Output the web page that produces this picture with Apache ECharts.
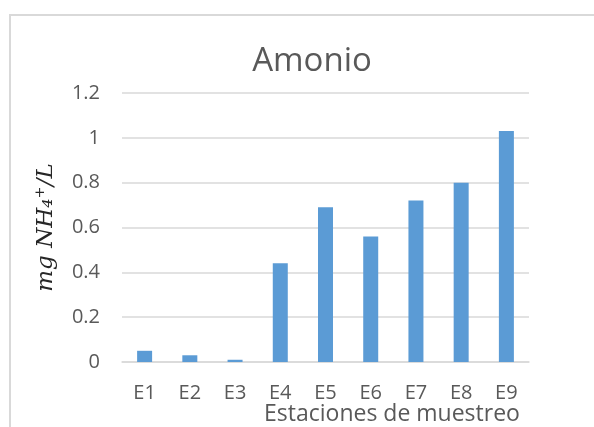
<!DOCTYPE html>
<html>
<head>
<meta charset="utf-8">
<script src="https://cdn.jsdelivr.net/npm/echarts@6/dist/echarts.min.js"></script>
<style>
  html, body { margin: 0; padding: 0; background: #fff; }
  #chart { width: 594px; height: 427px; }
</style>
</head>
<body>
<div id="chart"></div>
<script>
// Ammonium concentration per sampling station
const stations = ['E1', 'E2', 'E3', 'E4', 'E5', 'E6', 'E7', 'E8', 'E9'];
const ammonium = [0.05, 0.03, 0.01, 0.44, 0.69, 0.56, 0.72, 0.80, 1.03];
const yTicks = [0, 0.2, 0.4, 0.6, 0.8, 1, 1.2];

const textColor = '#595959';
const lineColor = '#d9d9d9';
const sans = '"Open Sans", "Noto Sans", sans-serif';

const chart = echarts.init(document.getElementById('chart'), null, { renderer: 'canvas' });

chart.setOption({
  animation: false,
  backgroundColor: '#ffffff',
  title: {
    text: 'Amonio',
    left: 307,
    top: 40,
    textAlign: 'center',
    textStyle: { fontFamily: sans, fontSize: 33, fontWeight: 'normal', color: textColor }
  },
  grid: { left: 122, right: 65, top: 93, bottom: 65 },
  xAxis: {
    type: 'category',
    data: stations,
    axisLine: { lineStyle: { color: lineColor, width: 1.5 } },
    axisTick: { show: false },
    axisLabel: { color: textColor, fontFamily: sans, fontSize: 20, margin: 21 }
  },
  yAxis: {
    type: 'value',
    min: yTicks[0],
    max: yTicks[yTicks.length - 1],
    interval: 0.2,
    name: 'mg NH₄⁺/L',
    nameLocation: 'middle',
    nameGap: 64,
    nameTextStyle: {
      fontFamily: '"DejaVu Serif", "Liberation Serif", serif',
      fontStyle: 'italic',
      fontSize: 23,
      color: '#262626'
    },
    axisLine: { show: false },
    axisTick: { show: false },
    splitLine: { lineStyle: { color: lineColor, width: 1.5 } },
    axisLabel: {
      color: textColor, fontFamily: sans, fontSize: 20, margin: 22,
      formatter: v => yTicks.includes(+v.toFixed(1)) ? String(+v.toFixed(1)) : ''
    }
  },
  series: [{
    type: 'bar',
    data: ammonium,
    barWidth: 15,
    itemStyle: { color: '#5b9bd5' }
  }],
  graphic: [
    {
      type: 'polyline',
      shape: { points: [[10, 427], [10, 15], [594, 15]] },
      style: { stroke: lineColor, lineWidth: 2, fill: null },
      silent: true
    },
    {
      type: 'text',
      left: 264,
      top: 403,
      style: {
        text: 'Estaciones de muestreo',
        fontFamily: sans,
        fontSize: 23,
        fill: textColor
      }
    }
  ]
});
</script>
</body>
</html>
